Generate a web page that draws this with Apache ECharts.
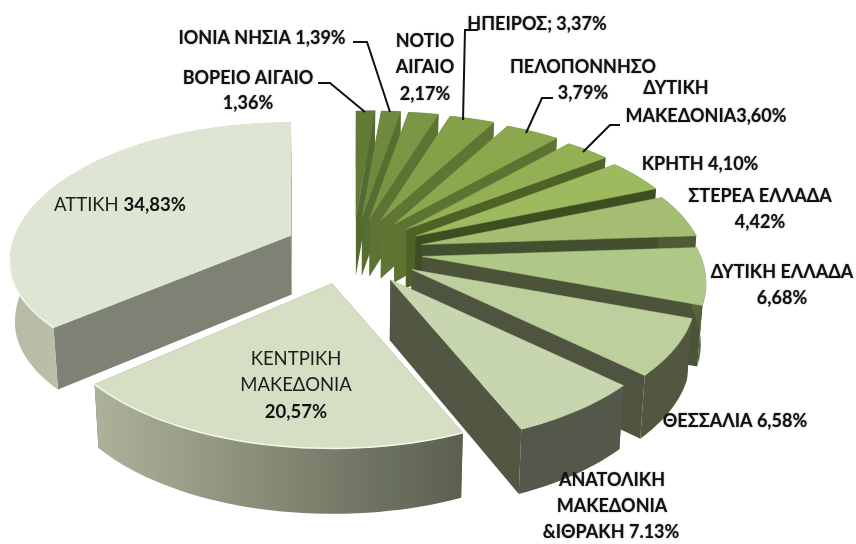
<!DOCTYPE html>
<html>
<head>
<meta charset="utf-8">
<title>Περιφέρειες</title>
<style>
    html, body { margin: 0; padding: 0; background: #fff; }
    #main { width: 856px; height: 544px; }
</style>
<script src="https://cdn.jsdelivr.net/npm/echarts@6/dist/echarts.min.js"></script>
</head>
<body>
<div id="main"></div>
<script>
    // clockwise from 12 o'clock
    const regions = ['ΒΟΡΕΙΟ ΑΙΓΑΙΟ', 'ΙΟΝΙΑ ΝΗΣΙΑ', 'ΝΟΤΙΟ ΑΙΓΑΙΟ', 'ΗΠΕΙΡΟΣ', 'ΠΕΛΟΠΟΝΝΗΣΟ', 'ΔΥΤΙΚΗ ΜΑΚΕΔΟΝΙΑ', 'ΚΡΗΤΗ',
        'ΣΤΕΡΕΑ ΕΛΛΑΔΑ', 'ΔΥΤΙΚΗ ΕΛΛΑΔΑ', 'ΘΕΣΣΑΛΙΑ', 'ΑΝΑΤΟΛΙΚΗ ΜΑΚΕΔΟΝΙΑ & ΘΡΑΚΗ', 'ΚΕΝΤΡΙΚΗ ΜΑΚΕΔΟΝΙΑ', 'ΑΤΤΙΚΗ'];
    const shares = [1.36, 1.39, 2.17, 3.37, 3.79, 3.60, 4.10, 4.42, 6.68, 6.58, 7.13, 20.57, 34.83];

    const topColors = ['#627a36', '#6f8a3e', '#7a9643', '#84a14a', '#8ca84f', '#93b055', '#9dbb5e',
        '#a4bd73', '#afc787', '#bccf9d', '#c7d6ae', '#d6dfc3', '#dee5d2'];
    const wallColors = ['#556a30', '#586d31', '#5c7334', '#5f7533', '#5d7332', '#4e6228', '#3d4f20',
        '#444f2f', '#4b5338', '#4f5440', '#525744', '#5a5f4f', '#7d8274'];
    const outerFrom = ['#556a30', '#586d31', '#5c7334', '#5f7533', '#5d7332', '#4e6228', '#3d4f20',
        '#4f5b35', '#5c6c38', '#52573f', '#53584a', '#adb39a', '#b5bba4'];
    const outerTo = ['#556a30', '#586d31', '#5c7334', '#5f7533', '#5d7332', '#4e6228', '#3d4f20',
        '#4f5b35', '#4f5b35', '#52573f', '#53584a', '#5a5f4f', '#ccd1bd'];

    // outer labels are bold, the two big slices carry theirs on the top face
    const labelTexts = [
        { t: 'ΒΟΡΕΙΟ ΑΙΓΑΙΟ', x: 248, y: 78 }, { t: '1,36%', x: 248, y: 103 },
        { t: 'ΙΟΝΙΑ ΝΗΣΙΑ 1,39%', x: 262, y: 38 },
        { t: 'ΝΟΤΙΟ', x: 425, y: 41 }, { t: 'ΑΙΓΑΙΟ', x: 425, y: 67 }, { t: '2,17%', x: 425, y: 94 },
        { t: 'ΗΠΕΙΡΟΣ; 3,37%', x: 537, y: 24 },
        { t: 'ΠΕΛΟΠΟΝΝΗΣΟ', x: 583, y: 67 }, { t: '3,79%', x: 583, y: 93 },
        { t: 'ΔΥΤΙΚΗ', x: 676, y: 88 }, { t: 'ΜΑΚΕΔΟΝΙΑ3,60%', x: 706, y: 116 },
        { t: 'ΚΡΗΤΗ 4,10%', x: 700, y: 164 },
        { t: 'ΣΤΕΡΕΑ ΕΛΛΑΔΑ', x: 760, y: 196 }, { t: '4,42%', x: 760, y: 222 },
        { t: 'ΔΥΤΙΚΗ ΕΛΛΑΔΑ', x: 782, y: 272 }, { t: '6,68%', x: 782, y: 298 },
        { t: 'ΘΕΣΣΑΛΙΑ 6,58%', x: 735, y: 421 },
        { t: 'ΑΝΑΤΟΛΙΚΗ', x: 612, y: 480 }, { t: 'ΜΑΚΕΔΟΝΙΑ', x: 612, y: 506 }, { t: '&ΙΘΡΑΚΗ 7.13%', x: 611, y: 532 }
    ];
    const insideTexts = [
        { t: 'ΑΤΤΙΚΗ', p: '34,83%', x: 120, y: 205 },
        { t: 'ΚΕΝΤΡΙΚΗ', x: 296, y: 359 }, { t: 'ΜΑΚΕΔΟΝΙΑ', x: 296, y: 385 }, { t: '', p: '20,57%', x: 296, y: 412 }
    ];
    const leaders = [
        [[318, 83], [330, 83], [365, 112]],
        [[353, 42], [367, 42], [390, 112]],
        [[478, 30], [465, 30], [463, 120]],
        [[553, 98], [542, 98], [526, 133]],
        [[620, 125], [610, 125], [583, 152]]
    ];

    // pie placement on the page
    const cx = 353, cy = 251;
    const explodeX = 70, explodeY = 34;
    const ryShift = 27;
    const DEG = Math.PI / 180;

    // perspective: how far the drawn rim angle sits from the true angle (degrees)
    const warpKnots = [[0, 0], [17.7, -3.7], [30, -6.5], [43.5, -8.7], [56.4, -12], [71.2, -13.5], [87, -12], [111, -12], [135, -10], [160.5, -8], [234.6, 3], [360, 0]];

    function warp(deg) {
        for (let k = 1; k < warpKnots.length; k++) {
            if (deg <= warpKnots[k][0]) {
                const p = warpKnots[k - 1], q = warpKnots[k];
                return deg + p[1] + (q[1] - p[1]) * (deg - p[0]) / (q[0] - p[0]);
            }
        }
        return deg;
    }
    function rim(a, ax, ay, ryFront) {
        const deg = a / DEG;
        const t = warp(deg) * DEG;
        const c = Math.cos(t), s = Math.sin(t);
        const right = deg < 180;
        const rx = right ? 284 : 281;
        const ry = c < 0 ? ryFront : (right ? 133 + 7 * s : 140);
        return [ax + rx * s, ay + ryShift - ry * c];
    }
    function below(p) {
        return [350 + (p[0] - 350) * 0.985, p[1] + 52 + 0.03 * p[1]];
    }

    let running = 0;
    const total = shares.reduce(function (s, v) { return s + v; }, 0);
    const sliceData = shares.map(function (v, i) {
        const item = [running / total * 360, (running + v) / total * 360, i];
        running += v;
        return item;
    });

    function renderSlice(params, api) {
        const a0 = api.value(0) * DEG, a1 = api.value(1) * DEG, i = api.value(2);
        const mid = (a0 + a1) / 2;
        const ax = cx + explodeX * Math.sin(mid), ay = cy - explodeY * Math.cos(mid);
        const apex = [ax, ay];
        const ryFront = i === 12 ? 122 : 138;
        const arc = [];
        const steps = Math.max(2, Math.ceil((a1 - a0) / (2 * DEG)));
        for (let s = 0; s <= steps; s++) {
            arc.push(rim(a0 + (a1 - a0) * s / steps, ax, ay, ryFront));
        }
        const arcLow = arc.map(below).reverse();
        const first = arc[0], last = arc[arc.length - 1];
        const children = [
            { type: 'polygon', shape: { points: [apex, first, below(first), below(apex)] }, style: { fill: wallColors[i] } },
            { type: 'polygon', shape: { points: [apex, last, below(last), below(apex)] }, style: { fill: wallColors[i] } },
            {
                type: 'polygon',
                shape: { points: arc.concat(arcLow) },
                style: {
                    fill: new echarts.graphic.LinearGradient(0, 0, 1, 0, [
                        { offset: 0, color: outerFrom[i] },
                        { offset: 1, color: outerTo[i] }
                    ])
                }
            },
            { type: 'polygon', shape: { points: [apex].concat(arc) }, style: { fill: topColors[i], stroke: topColors[i], lineWidth: 0.5 } }
        ];
        // light bevel along the front rim of the two big slices
        if (i >= 11) {
            const front = arc.filter(function (p) { return p[1] > ay + 20; });
            children.push({ type: 'polyline', shape: { points: front }, style: { stroke: '#f3f6ea', lineWidth: 1.5, fill: 'none' } });
        }
        return { type: 'group', children: children };
    }

    const fontFamily = 'Lato, "Open Sans", "Noto Sans", sans-serif';
    const graphics = [];
    leaders.forEach(function (pts) {
        graphics.push({ type: 'polyline', shape: { points: pts }, style: { stroke: '#111', lineWidth: 2, fill: 'none' }, z: 20 });
    });
    labelTexts.forEach(function (l) {
        graphics.push({
            type: 'text', x: l.x, y: l.y, z: 21,
            style: {
                text: l.t, fill: '#111', font: 'bold 18px ' + fontFamily, align: 'center', verticalAlign: 'middle',
                textShadowColor: 'rgba(0,0,0,0.45)', textShadowBlur: 1.5
            }
        });
    });
    insideTexts.forEach(function (l) {
        const txt = (l.t ? '{a|' + l.t + '}' : '') + (l.t && l.p ? '{a| }' : '') + (l.p ? '{b|' + l.p + '}' : '');
        graphics.push({
            type: 'text', x: l.x, y: l.y, z: 21,
            style: {
                text: txt, align: 'center', verticalAlign: 'middle',
                rich: {
                    a: { fill: '#1c1c1c', font: '18.5px ' + fontFamily },
                    b: { fill: '#111', font: 'bold 18.5px ' + fontFamily }
                }
            }
        });
    });

    const myChart = echarts.init(document.getElementById('main'), null, { renderer: 'canvas' });
    myChart.setOption({
        backgroundColor: '#fff',
        animation: false,
        series: [{
            type: 'custom',
            coordinateSystem: 'none',
            renderItem: renderSlice,
            data: sliceData,
            silent: true
        }],
        graphic: graphics
    });
</script>
</body>
</html>
